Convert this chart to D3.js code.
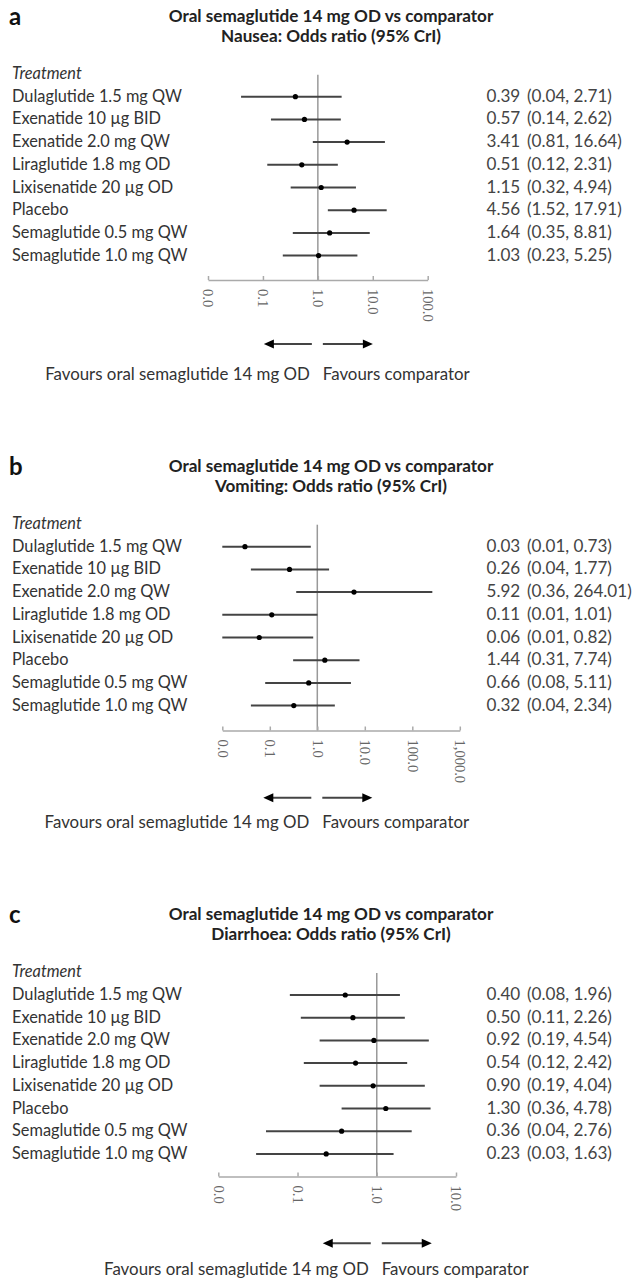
<!DOCTYPE html>
<html><head><meta charset="utf-8">
<script src="https://cdn.jsdelivr.net/npm/d3@7"></script>
<style>
body{margin:0;background:#fff;}
svg{display:block;}
text{font-family:Lato,"Open Sans",sans-serif;}
</style></head>
<body>
<svg id="chart" width="633" height="1285"></svg>
<script>
const treatments = ["Dulaglutide 1.5 mg QW","Exenatide 10 µg BID","Exenatide 2.0 mg QW","Liraglutide 1.8 mg OD","Lixisenatide 20 µg OD","Placebo","Semaglutide 0.5 mg QW","Semaglutide 1.0 mg QW"];

const nauseaOR = [0.39,0.57,3.41,0.51,1.15,4.56,1.64,1.03];
const nauseaLo = [0.04,0.14,0.81,0.12,0.32,1.52,0.35,0.23];
const nauseaHi = [2.71,2.62,16.64,2.31,4.94,17.91,8.81,5.25];

const vomitOR = [0.03,0.26,5.92,0.11,0.06,1.44,0.66,0.32];
const vomitLo = [0.01,0.04,0.36,0.01,0.01,0.31,0.08,0.04];
const vomitHi = [0.73,1.77,264.01,1.01,0.82,7.74,5.11,2.34];

const diarrOR = [0.40,0.50,0.92,0.54,0.90,1.30,0.36,0.23];
const diarrLo = [0.08,0.11,0.19,0.12,0.19,0.36,0.04,0.03];
const diarrHi = [1.96,2.26,4.54,2.42,4.04,4.78,2.76,1.63];

const ticksA = [0.01,0.1,1,10,100];
const tickLabelsA = ["0.0","0.1","1.0","10.0","100.0"];
const ticksB = [0.01,0.1,1,10,100,1000];
const tickLabelsB = ["0.0","0.1","1.0","10.0","100.0","1,000.0"];
const ticksC = [0.01,0.1,1,10];
const tickLabelsC = ["0.0","0.1","1.0","10.0"];

const panelLetters = ["a","b","c"];
const outcomes = ["Nausea","Vomiting","Diarrhoea"];
const titleLine1 = "Oral semaglutide 14 mg OD vs comparator";
const favLeft = "Favours oral semaglutide 14 mg OD";
const favRight = "Favours comparator";

const panels = [
  {letter:panelLetters[0], outcome:outcomes[0], or:nauseaOR, lo:nauseaLo, hi:nauseaHi, ticks:ticksA, tickLabels:tickLabelsA,
   row1:96.7, range:[208,427.7], axisY:280, arrowY:344, favY:380},
  {letter:panelLetters[1], outcome:outcomes[1], or:vomitOR, lo:vomitLo, hi:vomitHi, ticks:ticksB, tickLabels:tickLabelsB,
   row1:546.7, range:[222.3,459.8], axisY:730.5, arrowY:797.7, favY:828},
  {letter:panelLetters[2], outcome:outcomes[2], or:diarrOR, lo:diarrLo, hi:diarrHi, ticks:ticksC, tickLabels:tickLabelsC,
   row1:995, range:[218.3,456], axisY:1176.5, arrowY:1243.3, favY:1275}
];

const svg = d3.select("#chart");
const rowH = 22.7;
const f2 = d3.format(".2f");

// measure helper to size fonts to the reference widths
function fit(text, target, weight, style){
  const t = svg.append("text").attr("font-size",100).style("font-weight",weight||"normal").style("font-style",style||"normal").text(text);
  const w = t.node().getComputedTextLength(); t.remove();
  return 100*target/w;
}
const labelSize = fit(treatments[0], 170);
const titleSize = fit(titleLine1, 325, "bold");
const favSize = fit(favLeft, 265);
const valSize = fit("(0.04, 2.71)", 85);

panels.forEach(p => {
  const g = svg.append("g");
  const x = d3.scaleLog().domain([p.ticks[0], p.ticks[p.ticks.length-1]]).range(p.range);
  const y = d3.scaleLinear().domain([0,1]).range([p.row1, p.row1+rowH]);
  const refX = x(1);

  g.append("text").attr("x",9).attr("y",p.row1-72).attr("font-size",24).style("font-weight","bold").attr("fill","#111").text(p.letter);
  g.append("text").attr("x",331).attr("y",p.row1-75).attr("text-anchor","middle").attr("font-size",titleSize).style("font-weight","bold").attr("fill","#222").text(titleLine1);
  g.append("text").attr("x",331).attr("y",p.row1-55).attr("text-anchor","middle").attr("font-size",titleSize).style("font-weight","bold").attr("fill","#222").text(p.outcome+": Odds ratio (95% CrI)");

  g.append("text").attr("x",12).attr("y",y(-1)+5).attr("font-size",labelSize).style("font-style","italic").attr("fill","#333").text("Treatment");

  // reference line
  g.append("line").attr("x1",refX).attr("x2",refX).attr("y1",p.row1-22).attr("y2",p.axisY).attr("stroke","#999").attr("stroke-width",1.5);

  // axis
  const axis = d3.axisBottom(x).tickValues(p.ticks).tickFormat((d,i)=>p.tickLabels[i]).tickSizeInner(-4).tickSizeOuter(0);
  const ag = g.append("g").attr("transform",`translate(0,${p.axisY})`).call(axis);
  ag.select(".domain").attr("stroke","#aaa").attr("stroke-width",1.5);
  ag.selectAll(".tick line").attr("stroke","#aaa").attr("stroke-width",1.5);
  ag.selectAll(".tick text").attr("x",9).attr("y",0).attr("dy","0.35em").attr("transform","rotate(90)")
    .style("text-anchor","start").style("font-family","'Liberation Serif',serif").attr("font-size",14.5).attr("fill","#666");

  treatments.forEach((t,i) => {
    const cy = y(i);
    g.append("text").attr("x",12).attr("y",cy+5).attr("font-size",labelSize).attr("fill","#333").text(t);
    g.append("line").attr("x1",x(Math.max(p.lo[i],p.ticks[0]))).attr("x2",x(p.hi[i])).attr("y1",cy).attr("y2",cy).attr("stroke","#444").attr("stroke-width",2);
    g.append("circle").attr("cx",x(p.or[i])).attr("cy",cy).attr("r",2.6).attr("fill","#000");
    g.append("text").attr("x",486.5).attr("y",cy+5).attr("font-size",valSize).attr("fill","#444").text(f2(p.or[i]));
    g.append("text").attr("x",527).attr("y",cy+5).attr("font-size",valSize).attr("fill","#444").text(`(${f2(p.lo[i])}, ${f2(p.hi[i])})`);
  });

  // arrows
  const ay = p.arrowY;
  g.append("line").attr("x1",refX-6).attr("x2",refX-46).attr("y1",ay).attr("y2",ay).attr("stroke","#444").attr("stroke-width",2);
  g.append("path").attr("d",`M${refX-54},${ay} L${refX-44},${ay-4.5} L${refX-44},${ay+4.5} Z`).attr("fill","#000");
  g.append("line").attr("x1",refX+5).attr("x2",refX+47).attr("y1",ay).attr("y2",ay).attr("stroke","#444").attr("stroke-width",2);
  g.append("path").attr("d",`M${refX+55},${ay} L${refX+45},${ay-4.5} L${refX+45},${ay+4.5} Z`).attr("fill","#000");

  g.append("text").attr("x",refX-8).attr("y",p.favY).attr("text-anchor","end").attr("font-size",favSize).attr("fill","#333").text(favLeft);
  g.append("text").attr("x",refX+5).attr("y",p.favY).attr("font-size",favSize).attr("fill","#333").text(favRight);
});
</script>
</body></html>
